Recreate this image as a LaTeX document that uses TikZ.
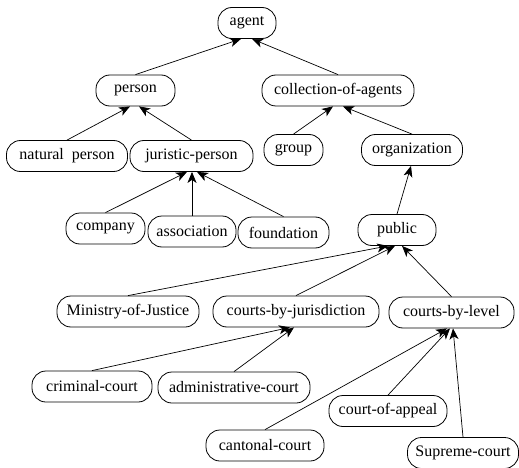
\documentclass[tikz,border=0pt]{standalone}
\usepackage{fontspec}
\setmainfont{Liberation Serif}
\usetikzlibrary{arrows.meta}
\begin{document}
\begin{tikzpicture}[x=1pt,y=-1pt,
  concept/.style={draw,line width=0.8pt,rounded corners=14pt,inner sep=0pt,minimum height=31pt,font=\fontsize{16}{17}\selectfont},
  isa/.style={line width=0.7pt,-{Stealth[length=11pt,width=9pt,inset=3pt]}}]
\useasboundingbox (0,0) rectangle (519,468);
\node[concept,minimum width=58pt] (agent) at (247,23) {agent};
\node[concept,minimum width=79pt] (person) at (135.5,90.5) {person};
\node[concept,minimum width=152pt] (coll) at (338,90.5) {collection-of-agents};
\node[concept,minimum width=121pt] (natural) at (67,156) {natural\ \ person};
\node[concept,minimum width=123pt] (juristic) at (191.5,156) {juristic-person};
\node[concept,minimum width=59pt] (group) at (293.5,150) {group};
\node[concept,minimum width=101pt] (org) at (412,150) {organization};
\node[concept,minimum width=79pt] (company) at (105.5,228.5) {company};
\node[concept,minimum width=88pt] (assoc) at (192,231.5) {association};
\node[concept,minimum width=91pt] (found) at (283.5,232.5) {foundation};
\node[concept,minimum width=78pt] (public) at (397,230) {public};
\node[concept,minimum width=142pt] (ministry) at (128,311.5) {Ministry-of-Justice};
\node[concept,minimum width=166pt] (cbj) at (296,311.5) {courts-by-jurisdiction};
\node[concept,minimum width=125pt] (cbl) at (451.5,312.5) {courts-by-level};
\node[concept,minimum width=120pt] (criminal) at (92,386.5) {criminal-court};
\node[concept,minimum width=152pt] (admin) at (234,387.5) {administrative-court};
\node[concept,minimum width=118pt] (appeal) at (388,411) {court-of-appeal};
\node[concept,minimum width=118pt] (cantonal) at (265,445.5) {cantonal-court};
\node[concept,minimum width=111pt] (supreme) at (463,453) {Supreme-court};
\draw[isa] (person.north) -- ([xshift=-6pt]agent.south);
\draw[isa] (coll.north) -- ([xshift=5pt]agent.south);
\draw[isa] (natural.north) -- ([xshift=-5.5pt]person.south);
\draw[isa] (juristic.north) -- ([xshift=3.5pt]person.south);
\draw[isa] (group.north) -- ([xshift=-5pt]coll.south);
\draw[isa] (org.north) -- ([xshift=5pt]coll.south);
\draw[isa] (company.north) -- ([xshift=-4.5pt]juristic.south);
\draw[isa] (assoc.north) -- ([xshift=0.5pt]juristic.south);
\draw[isa] (found.north) -- ([xshift=5.5pt]juristic.south);
\draw[isa] (public.north) -- ([xshift=-1pt]org.south);
\draw[isa] (ministry.north) -- ([xshift=-9pt]public.south);
\draw[isa] (cbj.north) -- ([xshift=-2pt]public.south);
\draw[isa] (cbl.north) -- ([xshift=5pt]public.south);
\draw[isa] (criminal.north) -- ([xshift=-6pt]cbj.south);
\draw[isa] (admin.north) -- ([xshift=-2pt]cbj.south);
\draw[isa] (cantonal.north) -- ([xshift=-4.5pt]cbl.south);
\draw[isa] (appeal.north) -- ([xshift=-1.5pt]cbl.south);
\draw[isa] (supreme.north) -- ([xshift=1.5pt]cbl.south);
\end{tikzpicture}
\end{document}
